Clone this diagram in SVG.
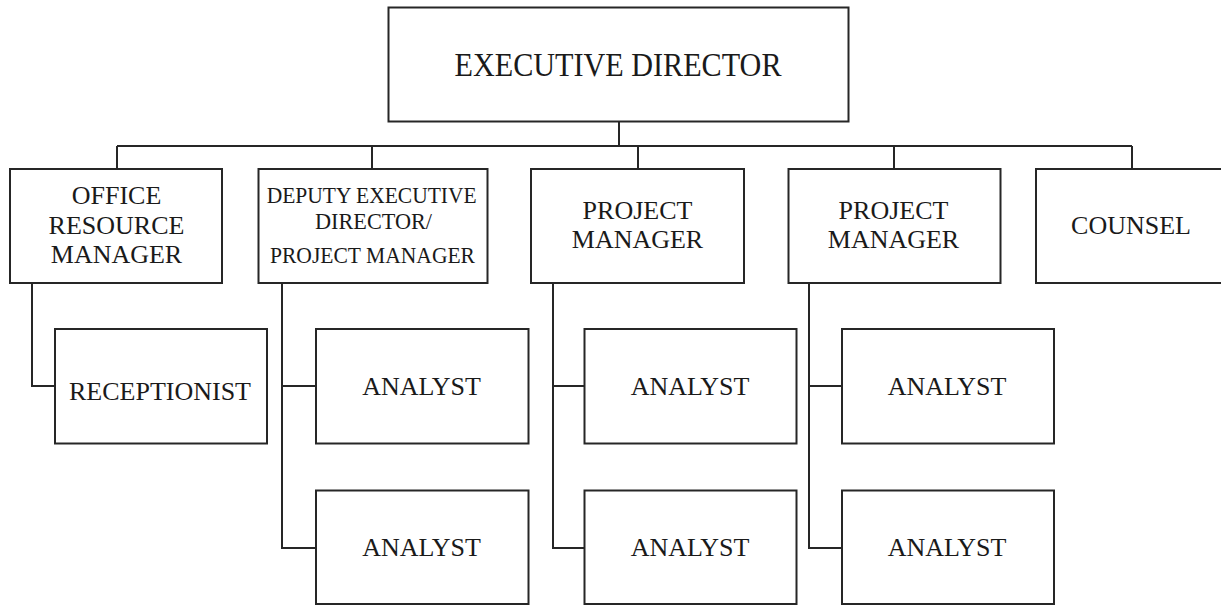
<svg xmlns="http://www.w3.org/2000/svg" width="1221" height="606" viewBox="0 0 1221 606">
<style>
.box{fill:#fff;stroke:#262626;stroke-width:2}
.con{fill:none;stroke:#262626;stroke-width:2}
text{font-family:"Liberation Serif","Times New Roman",serif;font-size:26px;fill:#1a1a1a;text-anchor:middle}
.big{font-size:33px}
.dep{font-size:23px}
</style>
<rect width="1221" height="606" fill="#fff"/>
<g id="connectors">
<path class="con" d="M619 122V146M117 146H1132M117 146V169M372 146V169M638 146V169M894 146V169M1132 146V169"/>
<path class="con" d="M32 283V386H55"/>
<path class="con" d="M282 283V548H316M282 386H316"/>
<path class="con" d="M553 283V548H584M553 386H584"/>
<path class="con" d="M809 283V548H842M809 386H842"/>
</g>
<g id="exec"><rect class="box" x="388.5" y="7.5" width="460" height="114"/><text class="big" x="618" y="76" textLength="327" lengthAdjust="spacingAndGlyphs">EXECUTIVE DIRECTOR</text></g>
<g id="office"><rect class="box" x="10" y="169" width="212" height="114"/>
<text x="116.5" y="204">OFFICE</text><text x="116.5" y="234">RESOURCE</text><text x="116.5" y="263">MANAGER</text></g>
<g id="deputy"><rect class="box" x="258.5" y="169" width="229" height="114"/>
<text class="dep" x="371.7" y="203" textLength="210" lengthAdjust="spacingAndGlyphs">DEPUTY EXECUTIVE</text>
<text class="dep" x="373.5" y="229" textLength="117" lengthAdjust="spacingAndGlyphs">DIRECTOR/</text>
<text class="dep" x="372.5" y="262.5" textLength="205" lengthAdjust="spacingAndGlyphs">PROJECT MANAGER</text></g>
<g id="pm1"><rect class="box" x="531" y="169" width="213" height="114"/>
<text x="637.5" y="219">PROJECT</text><text x="637.5" y="248">MANAGER</text></g>
<g id="pm2"><rect class="box" x="788.5" y="169" width="212" height="114"/>
<text x="893.5" y="219">PROJECT</text><text x="893.5" y="248">MANAGER</text></g>
<g id="counsel"><rect class="box" x="1036" y="169" width="213" height="114"/>
<text x="1131" y="234">COUNSEL</text></g>
<g id="receptionist"><rect class="box" x="55" y="329" width="212" height="114.5"/>
<text x="160" y="399.5">RECEPTIONIST</text></g>
<g id="analyst1"><rect class="box" x="316" y="329" width="212.5" height="114.5"/><text x="421.5" y="394.5">ANALYST</text></g>
<g id="analyst2"><rect class="box" x="316" y="490.5" width="212.5" height="113.5"/><text x="421.5" y="556">ANALYST</text></g>
<g id="analyst3"><rect class="box" x="584.5" y="329" width="212" height="114.5"/><text x="690" y="394.5">ANALYST</text></g>
<g id="analyst4"><rect class="box" x="584.5" y="490.5" width="212" height="113.5"/><text x="690" y="556">ANALYST</text></g>
<g id="analyst5"><rect class="box" x="842" y="329" width="212" height="114.5"/><text x="947" y="394.5">ANALYST</text></g>
<g id="analyst6"><rect class="box" x="842" y="490.5" width="212" height="113.5"/><text x="947" y="556">ANALYST</text></g>
</svg>
